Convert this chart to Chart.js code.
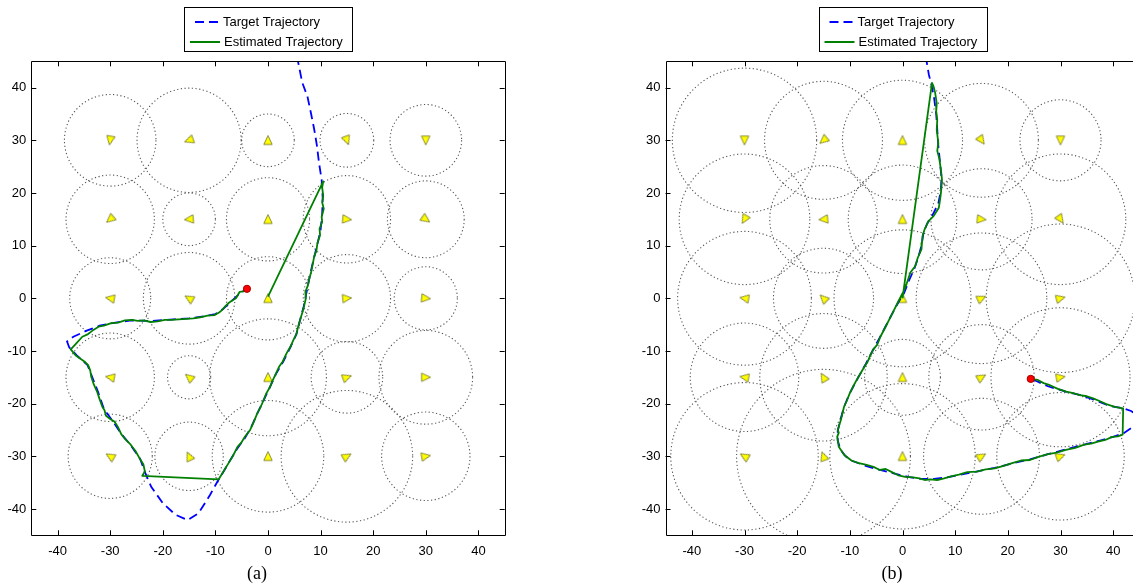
<!DOCTYPE html>
<html>
<head>
<meta charset="utf-8">
<script src="https://cdn.jsdelivr.net/npm/chart.js@4.4.0/dist/chart.umd.min.js"></script>
<style>
html, body { margin: 0; padding: 0; background: #fff; overflow: hidden; width: 1133px; height: 587px; }
#wrapA { position: absolute; left: 0; top: 0; }
#wrapB { position: absolute; left: 573px; top: 0; }
.cap { position: absolute; top: 562px; width: 60px; text-align: center; font-family: "Liberation Serif", "DejaVu Serif", serif; font-size: 18px; line-height: 22px; color: #000; }
</style>
</head>
<body>
<div id="wrapA"><canvas id="chartA" width="566" height="587"></canvas></div>
<div id="wrapB"><canvas id="chartB" width="640" height="587"></canvas></div>
<div class="cap" style="left:227px">(a)</div>
<div class="cap" style="left:862px">(b)</div>
<script>
// sensor grid
var sensorX = [-30, -15, 0, 15, 30];
var sensorY = [30, 15, 0, -15, -30];
var tickVals = [-40, -30, -20, -10, 0, 10, 20, 30, 40];

// sensing radius per sensor (rows follow sensorY, columns sensorX)
var radiiA = [
    [8.7, 9.9, 5.0, 5.1, 6.8],
    [8.4, 5.0, 7.9, 8.3, 7.3],
    [7.7, 8.7, 7.9, 8.3, 6.0],
    [8.4, 4.1, 11.1, 6.8, 8.9],
    [8.0, 6.5, 10.6, 12.5, 8.4]
];
var radiiB = [
    [13.7, 11.2, 11.4, 10.8, 7.7],
    [12.4, 10.2, 10.3, 9.6, 12.4],
    [12.7, 9.5, 13.0, 12.4, 14.1],
    [10.3, 12.1, 7.2, 10.0, 13.2],
    [14.0, 16.5, 13.8, 11.0, 12.1]
];

// sensor heading (degrees, clockwise from up)
var orientA = [
    [190, 250, 0, 160, 180],
    [230, 265, 0, 95, 125],
    [280, 300, 0, 85, 95],
    [280, 310, 0, 70, 90],
    [300, 335, 0, 60, 80]
];
var orientB = [
    [180, 230, 0, 145, 180],
    [210, 265, 0, 95, 145],
    [280, 315, 0, 65, 75],
    [280, 330, 0, 60, 80],
    [300, 340, 0, 60, 70]
];

// (a) trajectories
var targetA = [
    [5.5, 46], [6.5, 41], [7.5, 38.3], [8.2, 35], [8.8, 32], [9.3, 29], [9.7, 25.7], [10.2, 22.5],
    [10.4, 19], [10.3, 16], [10, 13], [9.4, 10.3], [8.7, 7.5], [8.0, 4.5], [7.4, 1.5], [6.8, -1.5],
    [6.1, -4.1], [5.4, -6.8], [4.3, -9.2], [2.9, -12], [1.5, -14.4], [0.3, -17], [-0.9, -19.5],
    [-2.1, -22], [-3.2, -24.5], [-4.5, -26.7], [-5.9, -28.6], [-7.4, -31.1], [-8.5, -33],
    [-9.5, -34.6], [-11, -37.3], [-13.2, -40.8], [-15.3, -42.1], [-17.6, -41.1], [-20, -38.9],
    [-22.2, -35.8], [-23.4, -33], [-24.3, -30.5], [-26.1, -27.9], [-28, -25.6], [-29.6, -23.2],
    [-31.2, -21], [-32.3, -17.8], [-33.4, -15], [-34.3, -12.7], [-36.4, -10.8], [-37.8, -9.3],
    [-38.2, -8.2], [-37, -7.3], [-34.6, -6.2], [-32, -5.2], [-29, -4.6], [-26, -4.2], [-22, -4.3],
    [-18, -4.0], [-15, -3.8], [-12, -3.4], [-10, -3.0], [-8.5, -2.0], [-7, -0.6], [-5.5, 0.8],
    [-3.9, 1.9]
];
var estA = [
    [0, 0.3], [10.5, 22.2], [10.3, 21], [10.5, 19.5], [10.3, 18.2], [10.6, 17], [10.2, 15.5],
    [10.3, 14.5], [9.8, 13.2], [9.9, 12], [9.4, 10.5], [9.2, 9], [8.8, 8], [8.5, 6.5], [8.2, 5],
    [7.8, 3.5], [7.6, 2.5], [7.1, 1.2], [7.2, 0], [6.9, -1.3], [6.5, -2.8], [6.1, -4.1],
    [5.7, -5.5], [5.4, -6.8], [4.8, -8], [4.2, -9.3], [3.5, -10.5], [2.8, -12], [2.1, -13],
    [1.5, -14.3], [0.9, -15.6], [0.3, -17], [-0.3, -18], [-0.9, -19.5], [-1.4, -20.6],
    [-2.1, -22], [-2.8, -23.7], [-3.4, -25], [-4.4, -26.3], [-5.0, -27.3], [-5.8, -28.2],
    [-6.6, -29.8], [-7.5, -31.3], [-8.3, -32.6], [-9.4, -34.4], [-23.9, -33.7], [-23.4, -32.9],
    [-23.7, -31.5], [-24.4, -30.4], [-25.2, -29], [-26.1, -27.8], [-27.1, -26.8], [-27.9, -25.8],
    [-28.5, -24.5], [-29.2, -23.4], [-30, -22.9], [-30.8, -22.3], [-31.1, -21.2], [-31.5, -20.6],
    [-32, -19.2], [-32.5, -17.7], [-33.1, -16.4], [-33.6, -14.9], [-33.8, -13.7], [-34.2, -12.7],
    [-34.9, -12], [-35.8, -11.4], [-36.6, -10.8], [-37.5, -9.7], [-36.4, -8.5], [-35.3, -7.3],
    [-34.2, -6.8], [-33.2, -6], [-32.2, -5.4], [-31.2, -5.2], [-29.8, -4.7], [-28.5, -4.6],
    [-27.2, -4.2], [-25.8, -4.1], [-24.8, -4.3], [-23.7, -4.2], [-22.3, -4.5], [-21, -4.4],
    [-19.6, -4.1], [-18.3, -4.1], [-17, -4.0], [-15.6, -3.9], [-14.2, -3.8], [-12.9, -3.6],
    [-11.5, -3.3], [-10.2, -3.2], [-9.3, -2.7], [-8.8, -2.3], [-8.1, -1.5], [-7.5, -0.9],
    [-6.8, -0.4], [-6.1, 0], [-5.4, 1.2], [-4.7, 1.3], [-4.0, 1.8]
];

// (b) trajectories
var targetB = [
    [4.4, 46], [5.0, 42.5], [5.5, 40.5], [6.0, 38], [6.4, 35], [6.6, 32], [6.8, 29], [7.1, 26],
    [7.4, 23], [7.3, 20.5], [6.8, 18], [5.8, 16], [4.7, 14.2], [4.0, 12.5], [3.6, 10], [3.0, 7.8],
    [2.2, 5.5], [1.2, 3.3], [0.3, 1], [-0.8, -0.8], [-2, -3], [-3.3, -5.5], [-4.5, -7.8],
    [-5.7, -10], [-7, -12.5], [-8.5, -15.2], [-10, -18], [-11.1, -20.6], [-11.8, -23.1],
    [-12.3, -25.2], [-12.3, -27], [-11.8, -28.7], [-10.8, -30], [-9.5, -30.9], [-7, -31.8],
    [-4.3, -32.6], [-1.5, -33.3], [1, -33.9], [3.5, -34.3], [6, -34.3], [8.5, -34], [11, -33.5],
    [14, -32.9], [17.5, -32.2], [21, -31.3], [24.2, -30.6], [27.6, -29.6], [31, -28.7],
    [34.5, -27.8], [37.5, -27], [40, -26.3], [42, -25.6], [43.5, -24.6], [44.5, -23.3],
    [44.4, -22.1], [43.4, -21.4], [42, -20.9], [39.2, -20.4], [36.5, -19.3], [33.8, -18.4],
    [31, -17.7], [27.6, -16.7], [25.6, -15.8], [24.4, -15.3]
];
var estB = [
    [0, 0], [5.6, 40.9], [5.9, 40.2], [6.2, 39], [6.5, 37], [6.4, 35.5], [6.6, 33.9], [6.5, 32],
    [6.8, 29.5], [6.6, 28], [7.0, 26.5], [7.2, 25], [7.4, 23.5], [7.5, 22.5], [7.3, 20],
    [7.1, 18.5], [6.9, 17.2], [5.9, 15.6], [4.9, 14.6], [4.2, 13.1], [3.8, 11.8], [3.7, 10.5],
    [3.6, 9.3], [2.9, 7.7], [2.4, 6.1], [1.5, 4.9], [0.8, 2.8], [0.2, 1.3], [-0.8, -0.6],
    [-1.9, -2.8], [-2.6, -4.2], [-3.2, -5.4], [-4.2, -7.3], [-4.8, -8.8], [-5.6, -9.8],
    [-6.2, -11], [-6.6, -12], [-7.6, -13.6], [-8.7, -15.5], [-9.3, -16.6], [-10, -18],
    [-10.6, -19.5], [-11.1, -20.6], [-11.7, -23.1], [-12.3, -25], [-12.1, -25.5], [-12.4, -26.3],
    [-12.1, -28.2], [-11.1, -29.7], [-9.7, -30.8], [-8.3, -31.3], [-7, -31.6], [-5.5, -32],
    [-4.3, -32.6], [-3.2, -32.4], [-2.2, -32.9], [-0.8, -33.6], [0.5, -33.9], [2, -34],
    [3.2, -34.2], [4.2, -34.5], [5.3, -34.4], [6.6, -34.5], [7.9, -34.2], [9.2, -33.8],
    [10.7, -33.5], [12.3, -33], [14.1, -32.9], [15.8, -32.5], [17.5, -32.3], [19.2, -31.8],
    [20.8, -31.3], [22.5, -30.8], [24.2, -30.7], [25.8, -30.1], [27.6, -29.6], [29.3, -29.3],
    [31, -28.8], [32.8, -28.4], [34.5, -27.8], [35.8, -27.6], [37.1, -27.2], [38.5, -26.9],
    [39.8, -26.3], [40.9, -26.2], [41.8, -25.9], [41.9, -20.9], [40.3, -20.6], [38.7, -20.1],
    [37.4, -19.5], [36.2, -19], [35, -18.6], [33.7, -18.4], [32.4, -18], [31.1, -17.7],
    [29.5, -17.2], [28, -16.5], [26.8, -16.1], [25.7, -15.5], [24.35, -15.3]
];

var tickFont = { family: "'Liberation Sans', Arial, sans-serif", size: 13 };

function toXY(list) {
    return list.map(function(p) { return { x: p[0], y: p[1] }; });
}

// small pointed triangle used as the sensor marker (rotated by chart.js)
function makeMarker() {
    var c = document.createElement('canvas');
    c.width = 12; c.height = 12;
    var g = c.getContext('2d');
    g.beginPath();
    g.moveTo(6, 1.3);
    g.lineTo(10.2, 10.2);
    g.lineTo(1.8, 10.2);
    g.closePath();
    g.fillStyle = '#ffff00';
    g.fill();
    g.strokeStyle = '#6e6e30';
    g.lineWidth = 0.8;
    g.stroke();
    return c;
}
var marker = makeMarker();

// dotted sensing-range circles, drawn under the datasets
function rangePlugin(radii) {
    return {
        id: 'ranges',
        beforeDatasetsDraw: function(chart) {
            var ctx = chart.ctx, a = chart.chartArea, xs = chart.scales.x, ys = chart.scales.y;
            ctx.save();
            ctx.beginPath();
            ctx.rect(a.left, a.top, a.right - a.left, a.bottom - a.top);
            ctx.clip();
            ctx.strokeStyle = '#555555';
            ctx.lineWidth = 1.1;
            ctx.setLineDash([1.2, 2.5]);
            radii.forEach(function(row, i) {
                row.forEach(function(r, j) {
                    var cx = xs.getPixelForValue(sensorX[j]);
                    var cy = ys.getPixelForValue(sensorY[i]);
                    var rx = xs.getPixelForValue(sensorX[j] + r) - cx;
                    var ry = cy - ys.getPixelForValue(sensorY[i] + r);
                    ctx.beginPath();
                    ctx.ellipse(cx, cy, rx, ry, 0, 0, Math.PI * 2);
                    ctx.stroke();
                });
            });
            ctx.restore();
        }
    };
}

// box and inward tick marks on all four sides
var framePlugin = {
    id: 'frame',
    afterDraw: function(chart) {
        var ctx = chart.ctx, a = chart.chartArea, xs = chart.scales.x, ys = chart.scales.y;
        ctx.save();
        ctx.strokeStyle = '#000';
        ctx.lineWidth = 1;
        ctx.beginPath();
        ctx.rect(Math.round(a.left) + 0.5, Math.round(a.top) + 0.5,
                 Math.round(a.right) - Math.round(a.left), Math.round(a.bottom) - Math.round(a.top));
        tickVals.forEach(function(v) {
            var px = Math.round(xs.getPixelForValue(v)) + 0.5;
            ctx.moveTo(px, a.bottom); ctx.lineTo(px, a.bottom - 5);
            ctx.moveTo(px, a.top); ctx.lineTo(px, a.top + 5);
            var py = Math.round(ys.getPixelForValue(v)) + 0.5;
            ctx.moveTo(a.left, py); ctx.lineTo(a.left + 5, py);
            ctx.moveTo(a.right, py); ctx.lineTo(a.right - 5, py);
        });
        ctx.stroke();
        ctx.restore();
    }
};

// boxed legend above the axes
var legendPlugin = {
    id: 'boxLegend',
    afterDraw: function(chart) {
        var ctx = chart.ctx, a = chart.chartArea;
        var cx = (a.left + a.right) / 2, top = 7;
        ctx.save();
        ctx.fillStyle = '#fff';
        ctx.fillRect(cx - 84, top, 168, 44);
        ctx.strokeStyle = '#000';
        ctx.lineWidth = 1;
        ctx.strokeRect(Math.round(cx - 84) + 0.5, top + 0.5, 168, 44);
        ctx.lineWidth = 2;
        ctx.strokeStyle = '#0000ff';
        ctx.setLineDash([9, 5]);
        ctx.beginPath();
        ctx.moveTo(cx - 73, top + 15); ctx.lineTo(cx - 48, top + 15);
        ctx.stroke();
        ctx.setLineDash([]);
        ctx.strokeStyle = '#008000';
        ctx.beginPath();
        ctx.moveTo(cx - 78, top + 35); ctx.lineTo(cx - 48, top + 35);
        ctx.stroke();
        ctx.fillStyle = '#000';
        ctx.font = "13px 'Liberation Sans', Arial, sans-serif";
        ctx.textBaseline = 'middle';
        ctx.fillText(chart.data.datasets[2].label, cx - 45, top + 15);
        ctx.fillText(chart.data.datasets[1].label, cx - 44, top + 35);
        ctx.restore();
    }
};

function axis(pos, size) {
    return {
        type: 'linear',
        position: pos,
        min: -45,
        max: 45,
        grid: { display: false, drawTicks: false },
        border: { display: false },
        ticks: { font: tickFont, color: '#000', padding: pos === 'left' ? 5 : 8, maxRotation: 0, autoSkip: false },
        afterBuildTicks: function(s) { s.ticks = tickVals.map(function(v) { return { value: v }; }); },
        afterFit: function(s) { if (pos === 'left') { s.width = size; } else { s.height = size; } }
    };
}

function buildChart(id, target, est, radii, orient, leftW, rightPad) {
    var sensorPts = [], sensorRot = [];
    sensorY.forEach(function(sy, i) {
        sensorX.forEach(function(sx, j) {
            sensorPts.push({ x: sx, y: sy });
            sensorRot.push(orient[i][j]);
        });
    });
    var last = est[est.length - 1];
    return new Chart(document.getElementById(id), {
        type: 'scatter',
        data: {
            datasets: [{
                label: 'End',
                data: [{ x: last[0], y: last[1] }],
                pointRadius: 3.6,
                backgroundColor: '#ff0000',
                borderColor: '#a00000',
                borderWidth: 1
            }, {
                label: 'Estimated Trajectory',
                data: toXY(est),
                showLine: true,
                borderColor: '#008000',
                borderWidth: 1.8,
                borderJoinStyle: 'round',
                pointRadius: 0,
                clip: 0
            }, {
                label: 'Target Trajectory',
                data: toXY(target),
                showLine: true,
                borderColor: '#0000ff',
                borderWidth: 1.8,
                borderDash: [9, 5],
                pointRadius: 0,
                clip: 0
            }, {
                label: 'Sensors',
                data: sensorPts,
                pointStyle: marker,
                rotation: sensorRot,
                pointRadius: 6
            }]
        },
        options: {
            responsive: false,
            animation: false,
            events: [],
            layout: { padding: { left: 0, right: rightPad, top: 61.3, bottom: 0 } },
            scales: { x: axis('bottom', 51.7), y: axis('left', leftW) },
            plugins: { legend: { display: false }, tooltip: { enabled: false } }
        },
        plugins: [rangePlugin(radii), framePlugin, legendPlugin]
    });
}

buildChart('chartA', targetA, estA, radiiA, orientA, 31.3, 61.3);
buildChart('chartB', targetB, estB, radiiB, orientB, 92.5, 73.5);
</script>
</body>
</html>
